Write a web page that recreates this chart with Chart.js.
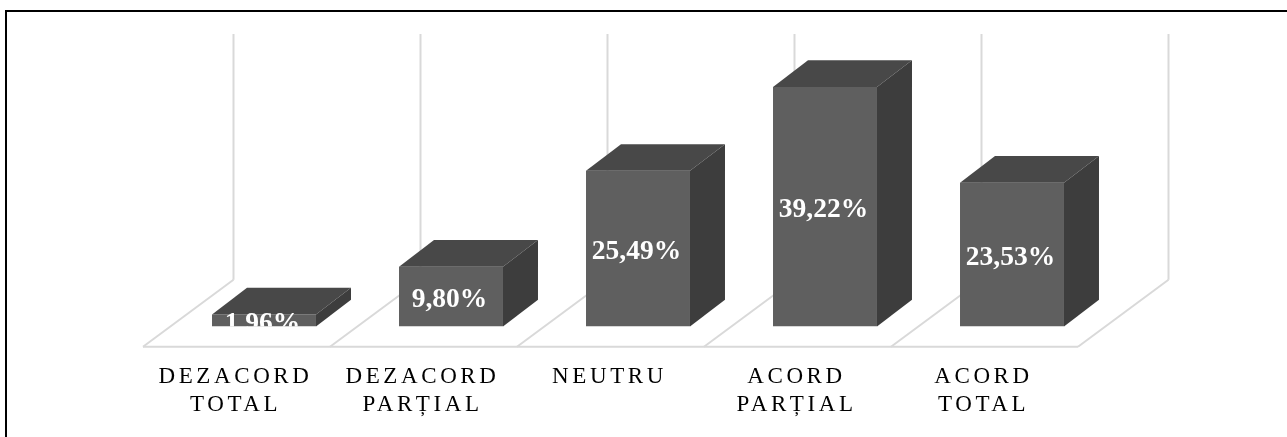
<!DOCTYPE html>
<html>
<head>
<meta charset="utf-8">
<style>
    html, body { margin: 0; padding: 0; background: #fff; overflow: hidden; }
    #frame { position: absolute; left: 5px; top: 10px; right: 0; bottom: 0; border-left: 2px solid #000; border-top: 2px solid #000; }
    #chart { position: absolute; left: 0; top: 0; }
</style>
<script src="https://cdn.jsdelivr.net/npm/chart.js@4"></script>
</head>
<body>
<div id="frame"></div>
<canvas id="chart" width="1287" height="437"></canvas>
<script>
const categories = [['DEZACORD', 'TOTAL'], ['DEZACORD', 'PARȚIAL'], 'NEUTRU', ['ACORD', 'PARȚIAL'], ['ACORD', 'TOTAL']];
const percentValues = [1.96, 9.80, 25.49, 39.22, 23.53];
const yMax = 45;

// oblique projection used for the box sides and the floor
const BOX_DX = 35, BOX_DY = 26.7;
const FLOOR_FRONT_DX = 27.5, FLOOR_FRONT_DY = 20.3;
const FLOOR_BACK_DX = 63, FLOOR_BACK_DY = 46.7;
const WALL_TOP = 34;

const GRID_COLOR = '#d9d9d9';
const FRONT_COLOR = '#5f5f5f';
const TOP_COLOR = '#484848';
const SIDE_COLOR = '#3d3d3d';

function fillPoly(ctx, color, pts) {
    ctx.fillStyle = color;
    ctx.beginPath();
    pts.forEach((p, i) => i ? ctx.lineTo(p[0], p[1]) : ctx.moveTo(p[0], p[1]));
    ctx.closePath();
    ctx.fill();
}

function strokeLine(ctx, x1, y1, x2, y2) {
    ctx.beginPath();
    ctx.moveTo(x1, y1);
    ctx.lineTo(x2, y2);
    ctx.stroke();
}

// floor and back wall lines, one per category boundary
const floorPlugin = {
    id: 'floorAndWalls',
    beforeDatasetsDraw(chart) {
        const { ctx, chartArea, scales } = chart;
        const base = scales.y.getPixelForValue(0);
        const band = (chartArea.right - chartArea.left) / categories.length;
        const frontY = base + FLOOR_FRONT_DY, backY = base - FLOOR_BACK_DY;

        ctx.save();
        ctx.letterSpacing = '0px';
        ctx.strokeStyle = GRID_COLOR;
        ctx.lineWidth = 2;
        strokeLine(ctx, chartArea.left - FLOOR_FRONT_DX, frontY, chartArea.right - FLOOR_FRONT_DX, frontY);
        for (let i = 0; i <= categories.length; i++) {
            const x = chartArea.left + band * i;
            strokeLine(ctx, x - FLOOR_FRONT_DX, frontY, x + FLOOR_BACK_DX, backY);
            strokeLine(ctx, x + FLOOR_BACK_DX, backY, x + FLOOR_BACK_DX, WALL_TOP);
        }
        ctx.restore();
    }
};

// top and side faces of each box, then the value printed on the front face
const boxPlugin = {
    id: 'boxFaces',
    afterDatasetsDraw(chart) {
        const { ctx, scales } = chart;
        const base = scales.y.getPixelForValue(0);
        const meta = chart.getDatasetMeta(0);

        meta.data.forEach((bar) => {
            const left = bar.x - bar.width / 2, right = bar.x + bar.width / 2;
            fillPoly(ctx, TOP_COLOR, [[left, bar.y], [right, bar.y], [right + BOX_DX, bar.y - BOX_DY], [left + BOX_DX, bar.y - BOX_DY]]);
            fillPoly(ctx, SIDE_COLOR, [[right, bar.y], [right + BOX_DX, bar.y - BOX_DY], [right + BOX_DX, base - BOX_DY], [right, base]]);
        });

        // text of a short box is cut off at the box bottom
        ctx.save();
        ctx.beginPath();
        ctx.rect(0, 0, chart.width, base);
        ctx.clip();
        ctx.letterSpacing = '0px';
        ctx.fillStyle = '#fff';
        ctx.font = 'bold 27.5px "Liberation Serif"';
        ctx.textAlign = 'center';
        ctx.textBaseline = 'middle';
        meta.data.forEach((bar, i) => {
            const text = percentValues[i].toFixed(2).replace('.', ',') + '%';
            ctx.fillText(text, bar.x - 1.5, (bar.y + base) / 2 + 3);
        });
        ctx.restore();
    }
};

// axis labels are spaced out, canvas keeps this setting until the datasets are drawn
const spacingPlugin = {
    id: 'labelSpacing',
    beforeDraw(chart) {
        chart.ctx.letterSpacing = '3.6px';
    }
};

new Chart(document.getElementById('chart').getContext('2d'), {
    type: 'bar',
    data: {
        labels: categories,
        datasets: [{
            data: percentValues,
            backgroundColor: FRONT_COLOR,
            borderWidth: 0,
            categoryPercentage: 1,
            barPercentage: 0.556
        }]
    },
    options: {
        responsive: false,
        animation: false,
        layout: { padding: { left: 170.5, right: 181.5, top: 51.7, bottom: 0 } },
        plugins: {
            legend: { display: false },
            title: { display: false },
            tooltip: { enabled: false }
        },
        scales: {
            x: {
                // keep the plot bottom fixed, labels get the rest of the canvas
                afterFit(scale) { scale.height = 110.5; },
                grid: { display: false, drawTicks: false },
                border: { display: false },
                ticks: {
                    autoSkip: false,
                    maxRotation: 0,
                    minRotation: 0,
                    padding: 36,
                    labelOffset: -28.5,
                    color: '#000',
                    font: { family: '"Liberation Serif"', size: 23, lineHeight: 1.217 }
                }
            },
            y: { display: false, min: 0, max: yMax }
        }
    },
    plugins: [spacingPlugin, floorPlugin, boxPlugin]
});
</script>
</body>
</html>
